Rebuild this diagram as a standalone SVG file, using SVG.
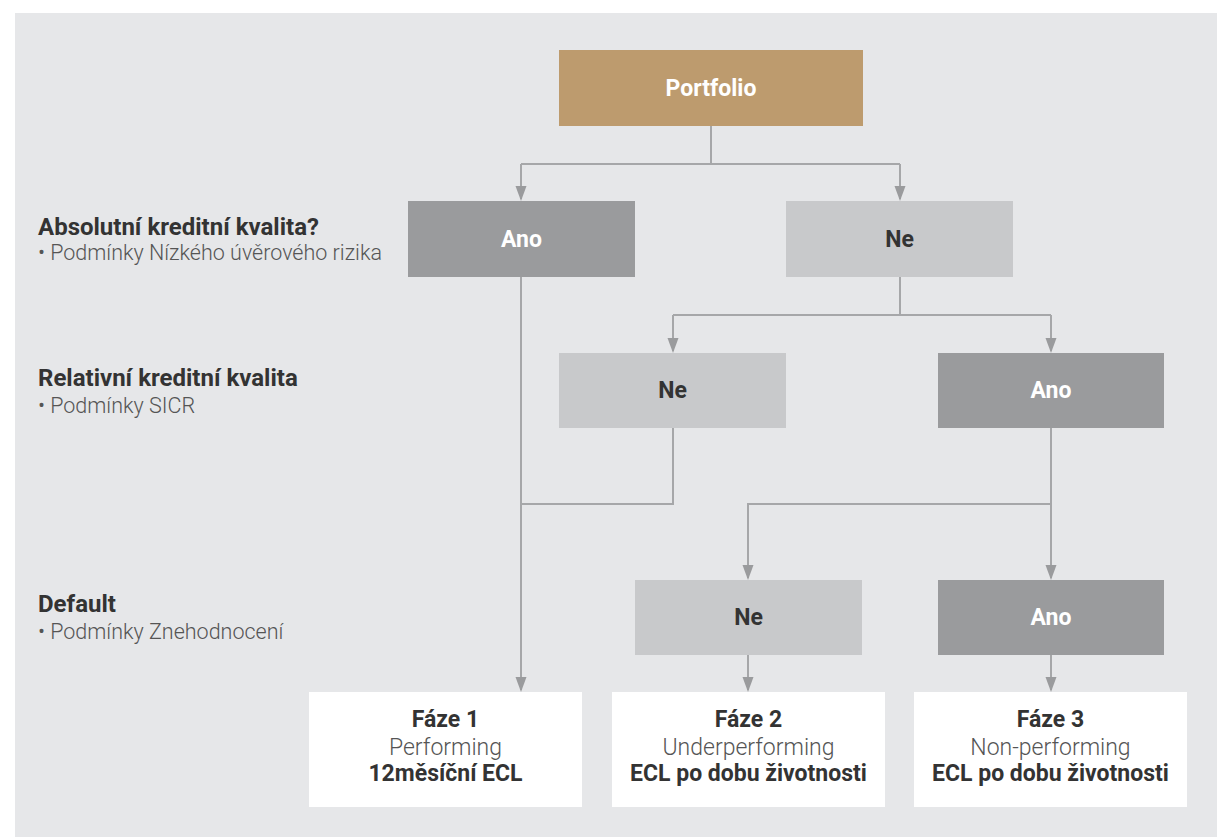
<svg xmlns="http://www.w3.org/2000/svg" width="1217" height="837" viewBox="0 0 1217 837">
<style>
.bg{fill:#e6e7e9}
.tan{fill:#bd9b6e}
.dk{fill:#9a9b9d}
.lt{fill:#c8c9cb}
.wh{fill:#ffffff}
.t{font-family:Roboto,"Liberation Sans",sans-serif;text-anchor:middle}
.b{font-weight:700;font-size:23px}
.w{fill:#ffffff}
.d{fill:#333333}
.l{font-weight:300;font-size:23px;fill:#555555}
.lab{font-family:Roboto,"Liberation Sans",sans-serif;font-weight:700;font-size:24px;fill:#333333}
.sub{font-family:Roboto,"Liberation Sans",sans-serif;font-weight:300;font-size:21.5px;fill:#555555}
.c{fill:none;stroke:#a6a7a9;stroke-width:2}
</style>
<defs>
<marker id="ah" markerUnits="userSpaceOnUse" markerWidth="16" markerHeight="12" refX="13" refY="5.5" orient="auto">
<path d="M0,0 L15,5.5 L0,11 Z" fill="#9a9b9d"/>
</marker>
</defs>
<rect class="bg" x="15" y="13" width="1202" height="824"/>

<g id="labels">
<text class="lab" x="38" y="235">Absolutní kreditní kvalita?</text>
<text class="sub" x="38" y="260">• Podmínky Nízkého úvěrového rizika</text>
<text class="lab" x="38" y="386">Relativní kreditní kvalita</text>
<text class="sub" x="38" y="413">• Podmínky SICR</text>
<text class="lab" x="38" y="612">Default</text>
<text class="sub" x="38" y="639">• Podmínky Znehodnocení</text>
</g>

<g id="connectors">
<path class="c" d="M711,126 V164 M521,164 H900"/>
<path class="c" d="M521,164 V199" marker-end="url(#ah)"/>
<path class="c" d="M900,164 V199" marker-end="url(#ah)"/>
<path class="c" d="M521,277 V690" marker-end="url(#ah)"/>
<path class="c" d="M900,277 V315 M673,315 H1051"/>
<path class="c" d="M673,315 V351" marker-end="url(#ah)"/>
<path class="c" d="M1051,315 V351" marker-end="url(#ah)"/>
<path class="c" d="M673,428 V504 H521"/>
<path class="c" d="M1051,428 V578" marker-end="url(#ah)"/>
<path class="c" d="M1051,504 H748 V578" marker-end="url(#ah)"/>
<path class="c" d="M748,655 V690" marker-end="url(#ah)"/>
<path class="c" d="M1051,655 V690" marker-end="url(#ah)"/>
</g>

<g id="portfolio">
<rect class="tan" x="559" y="50" width="304" height="76"/>
<text class="t b w" x="711" y="96">Portfolio</text>
</g>
<g id="abs-ano">
<rect class="dk" x="408" y="201" width="227" height="76"/>
<text class="t b w" x="521.5" y="247">Ano</text>
</g>
<g id="abs-ne">
<rect class="lt" x="786" y="201" width="227" height="76"/>
<text class="t b d" x="899.5" y="247">Ne</text>
</g>
<g id="rel-ne">
<rect class="lt" x="559" y="353" width="227" height="75"/>
<text class="t b d" x="672.5" y="398">Ne</text>
</g>
<g id="rel-ano">
<rect class="dk" x="938" y="353" width="226" height="75"/>
<text class="t b w" x="1051" y="398">Ano</text>
</g>
<g id="def-ne">
<rect class="lt" x="635" y="580" width="227" height="75"/>
<text class="t b d" x="748.5" y="625">Ne</text>
</g>
<g id="def-ano">
<rect class="dk" x="938" y="580" width="226" height="75"/>
<text class="t b w" x="1051" y="625">Ano</text>
</g>
<g id="faze1">
<rect class="wh" x="309" y="692" width="273" height="115"/>
<text class="t b d" x="445.5" y="727">Fáze 1</text>
<text class="t l" x="445.5" y="755">Performing</text>
<text class="t b d" x="445.5" y="781">12měsíční ECL</text>
</g>
<g id="faze2">
<rect class="wh" x="612" y="692" width="273" height="115"/>
<text class="t b d" x="748.5" y="727">Fáze 2</text>
<text class="t l" x="748.5" y="755">Underperforming</text>
<text class="t b d" x="748.5" y="781">ECL po dobu životnosti</text>
</g>
<g id="faze3">
<rect class="wh" x="914" y="692" width="273" height="115"/>
<text class="t b d" x="1050.5" y="727">Fáze 3</text>
<text class="t l" x="1050.5" y="755">Non-performing</text>
<text class="t b d" x="1050.5" y="781">ECL po dobu životnosti</text>
</g>
</svg>
